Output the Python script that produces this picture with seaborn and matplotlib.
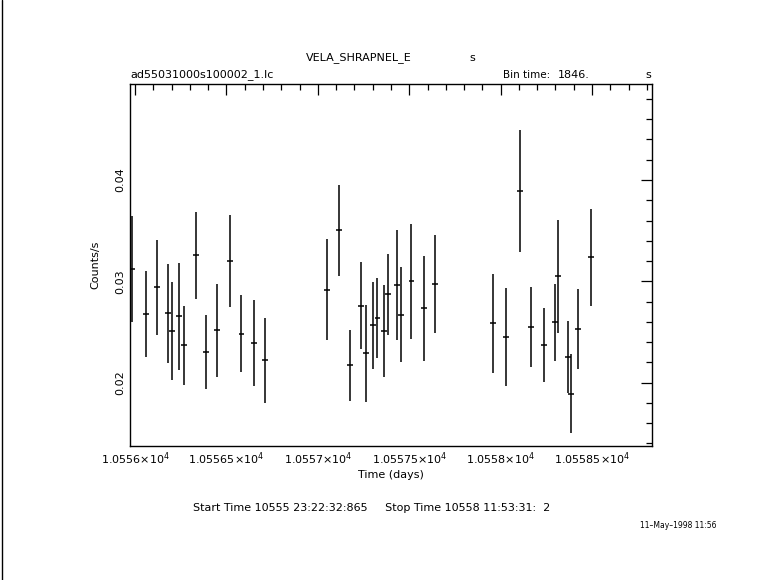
import matplotlib

matplotlib.use("Agg")
import matplotlib.pyplot as plt
import numpy as np
import pandas as pd
import seaborn as sns
from matplotlib.lines import Line2D
from matplotlib.ticker import FuncFormatter, MultipleLocator

# Light curve values (time in days, rate in counts/s)
time_days = [
    10555.985, 10556.059, 10556.119, 10556.182, 10556.204, 10556.242, 10556.266,
    10556.335, 10556.390, 10556.450, 10556.521, 10556.582, 10556.653, 10556.713,
    10557.049, 10557.118, 10557.178, 10557.238, 10557.265, 10557.304, 10557.326,
    10557.364, 10557.386, 10557.435, 10557.457, 10557.512, 10557.583, 10557.643,
    10557.960, 10558.031, 10558.108, 10558.168, 10558.239, 10558.299, 10558.316,
    10558.370, 10558.387, 10558.425, 10558.496,
]
rate = [
    0.03125, 0.02676, 0.02940, 0.02684, 0.02513, 0.02653, 0.02367,
    0.03256, 0.02305, 0.02516, 0.03200, 0.02484, 0.02391, 0.02220,
    0.02917, 0.03502, 0.02170, 0.02761, 0.02288, 0.02565, 0.02639,
    0.02510, 0.02871, 0.02964, 0.02672, 0.03000, 0.02732, 0.02974,
    0.02584, 0.02451, 0.03892, 0.02550, 0.02372, 0.02594, 0.03048,
    0.02251, 0.01892, 0.02527, 0.03236,
]
rate_err = [
    0.00522, 0.00423, 0.00469, 0.00487, 0.00484, 0.00532, 0.00390,
    0.00429, 0.00365, 0.00458, 0.00453, 0.00384, 0.00423, 0.00418,
    0.00500, 0.00448, 0.00349, 0.00429, 0.00477, 0.00428, 0.00393,
    0.00453, 0.00398, 0.00541, 0.00466, 0.00566, 0.00517, 0.00482,
    0.00487, 0.00482, 0.00601, 0.00393, 0.00364, 0.00379, 0.00556,
    0.00357, 0.00387, 0.00396, 0.00477,
]
time_halfwidth = 0.016

x_limits = (10555.9726, 10558.8266)
y_limits = (0.01374, 0.04945)

title_text, title_unit = "VELA_SHRAPNEL_E", "s"
file_text = "ad55031000s100002_1.lc"
bin_label, bin_value, bin_unit = "Bin time:", "1846.", "s"
times_text = "Start Time 10555 23:22:32:865     Stop Time 10558 11:53:31:  2"
stamp_text = "11\u2013May\u20131998 11:56"

df = pd.DataFrame({"time": time_days, "rate": rate, "err": rate_err})

sns.set_theme(style="white")
plt.rcParams["font.family"] = ["DejaVu Sans"]
plt.rcParams["mathtext.fontset"] = "dejavusans"
plt.rcParams.update({
    "text.color": "black",
    "axes.labelcolor": "black",
    "xtick.color": "black",
    "ytick.color": "black",
})

fig = plt.figure(figsize=(7.81, 5.8), dpi=100)
ax = fig.add_axes([0.1665, 0.231, 0.668, 0.6237])

ax.errorbar(
    df["time"], df["rate"], yerr=df["err"], xerr=time_halfwidth,
    fmt="none", ecolor="black", elinewidth=1.1, capsize=0,
)

ax.set_xlim(*x_limits)
ax.set_ylim(*y_limits)

ax.xaxis.set_major_locator(MultipleLocator(0.5))
ax.xaxis.set_minor_locator(MultipleLocator(0.1))
ax.yaxis.set_major_locator(MultipleLocator(0.01))
ax.yaxis.set_minor_locator(MultipleLocator(0.002))


def sci_label(v, pos):
    return f"{v / 1e4:.6g}\u00d710" + r"$^{4}$"


ax.xaxis.set_major_formatter(FuncFormatter(sci_label))
ax.yaxis.set_major_formatter(FuncFormatter(lambda v, p: f"{v:.2f}"))

ax.tick_params(which="both", direction="in", top=True, right=True,
               colors="black", labelsize=8)
ax.tick_params(which="major", length=8, width=0.9)
ax.tick_params(which="minor", length=4.5, width=0.9)
for label in ax.get_yticklabels():
    label.set_rotation(90)
    label.set_va("center")
for spine in ax.spines.values():
    spine.set_color("black")
    spine.set_linewidth(1.0)

ax.set_xlabel("Time (days)", fontsize=8, labelpad=2)
ax.set_ylabel("Counts/s", fontsize=8, labelpad=11)

fig.text(306 / 781, 1 - 58 / 580, title_text, fontsize=8, va="center", ha="left")
fig.text(469 / 781, 1 - 58 / 580, title_unit, fontsize=8, va="center", ha="left")
fig.text(130 / 781, 1 - 75 / 580, file_text, fontsize=8, va="center", ha="left")
fig.text(503 / 781, 1 - 75 / 580, bin_label, fontsize=7.5, va="center", ha="left")
fig.text(558 / 781, 1 - 75 / 580, bin_value, fontsize=8, va="center", ha="left")
fig.text(645 / 781, 1 - 75 / 580, bin_unit, fontsize=8, va="center", ha="left")
fig.text(193 / 781, 1 - 508 / 580, times_text, fontsize=8, va="center", ha="left")
fig.text(640 / 781, 1 - 525 / 580, stamp_text, fontsize=5.5, va="center", ha="left")

# thin frame line down the left edge of the page
fig.add_artist(Line2D([1.5 / 781, 1.5 / 781], [0, 1], color="black",
                      linewidth=1.0, transform=fig.transFigure))

fig.savefig("out.png", dpi=100)
